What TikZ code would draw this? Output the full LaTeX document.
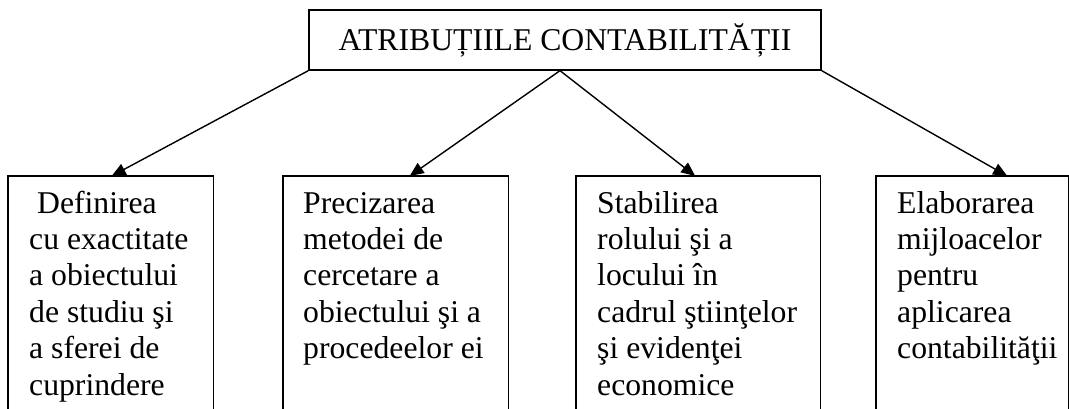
\documentclass[tikz,border=0pt]{standalone}
\usepackage{fontspec}
\setmainfont{Liberation Serif}
\usetikzlibrary{arrows.meta}
\begin{document}
\begin{tikzpicture}[x=1pt,y=1pt,
  frame/.style={line width=1.3pt},
  boxarea/.style={rectangle,inner sep=0pt,anchor=north west,minimum height=233pt},
  txt/.style={inner sep=0pt,anchor=north west,align=left,font=\fontsize{31.7}{36.4}\selectfont},
  title/.style={draw,line width=1.3pt,inner sep=0pt,minimum width=512pt,minimum height=60pt,font=\fontsize{31.7}{36}\selectfont},
  arr/.style={line width=1.4pt,-{Triangle[length=14pt,width=12pt]}}]
\useasboundingbox (0,0) rectangle (1069,409);
% title
\node[title] (T) at (565,369) {ATRIBUȚIILE CONTABILITĂȚII};
% box areas
\node[boxarea,minimum width=205pt] (b1) at (8,233) {};
\node[boxarea,minimum width=225pt] (b2) at (283,233) {};
\node[boxarea,minimum width=244pt] (b3) at (576,233) {};
\node[boxarea,minimum width=192pt] (b4) at (876,233) {};
\foreach \b in {b1,b2,b3,b4}
  \draw[frame] (\b.south west) |- (\b.north) -| (\b.south east);
% texts
\node[txt] (t1) at (29,221) {\rule{0pt}{25pt}\hspace{0.25em}Definirea\\cu exactitate\\a obiectului\\de studiu şi\\a sferei de\\cuprindere};
\node[txt] (t2) at (303,221) {\rule{0pt}{25pt}Precizarea\\metodei de\\cercetare a\\obiectului şi a\\procedeelor ei};
\node[txt] (t3) at (597,221) {\rule{0pt}{25pt}Stabilirea\\rolului şi a\\locului în\\cadrul ştiinţelor\\şi evidenţei\\economice};
\node[txt] (t4) at (897,221) {\rule{0pt}{25pt}Elaborarea\\mijloacelor\\pentru\\aplicarea\\contabilităţii};
% connectors
\draw[arr] (T.south west) -- ([xshift=1pt]b1.north);
\draw[arr] ([xshift=-5pt]T.south) -- ([xshift=14pt]b2.north);
\draw[arr] ([xshift=-5pt]T.south) -- ([xshift=-3pt]b3.north);
\draw[arr] (T.south east) -- ([xshift=35pt]b4.north);
\end{tikzpicture}
\end{document}
